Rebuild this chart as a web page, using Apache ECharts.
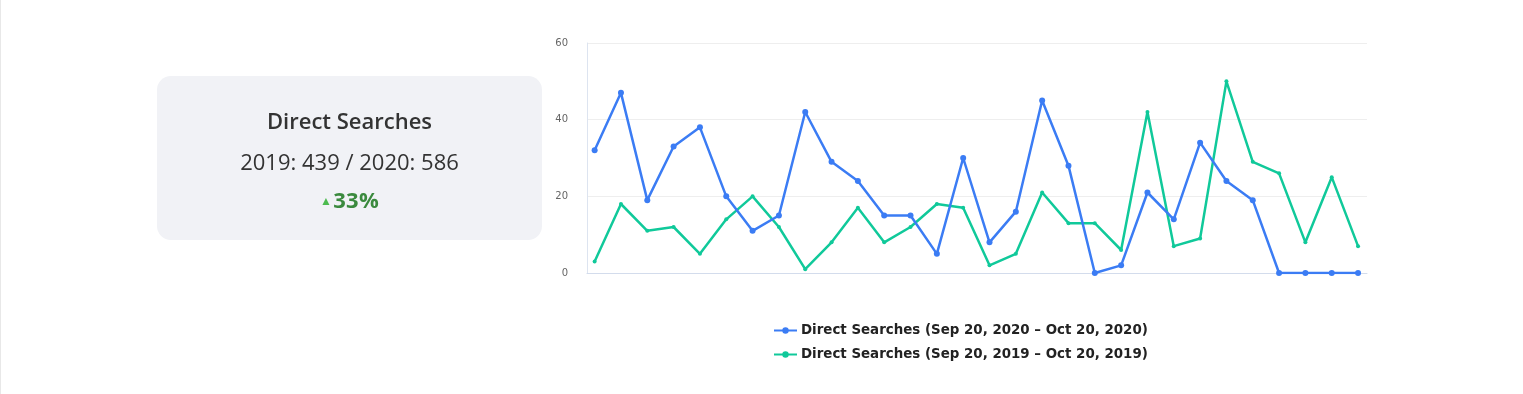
<!DOCTYPE html>
<html>
<head>
<meta charset="utf-8">
<script src="https://cdn.jsdelivr.net/npm/echarts@6/dist/echarts.min.js"></script>
<style>
html,body{margin:0;padding:0;background:#fff;}
body{width:1523px;height:394px;position:relative;overflow:hidden;}
#edge{position:absolute;left:0;top:0;width:1px;height:394px;background:#e8e8e8;}
#chart{position:absolute;left:0;top:0;width:1523px;height:394px;}
#card{position:absolute;left:157px;top:76px;width:385px;height:164px;background:#f1f2f6;border-radius:14px;
  font-family:"Open Sans",sans-serif;text-align:center;color:#333;}
#card .t{position:absolute;left:0;right:0;font-size:22px;font-weight:600;line-height:30px;}
#card .v{position:absolute;left:0;right:0;font-size:22px;font-weight:400;line-height:30px;}
#card .p{position:absolute;left:0;right:0;font-size:22px;font-weight:700;line-height:30px;color:#3b8a3e;letter-spacing:0.3px;}
#card .p span{font-size:12px;color:#4cbb4f;vertical-align:3px;margin-right:1px;}
</style>
</head>
<body>
<div id="edge"></div>
<div id="chart"></div>
<div id="card"></div>
<script>
const cardTitle = "Direct Searches";
const cardValues = "2019: 439 / 2020: 586";
const cardChange = "33%";

const categories = ["Sep 20","Sep 21","Sep 22","Sep 23","Sep 24","Sep 25","Sep 26","Sep 27","Sep 28","Sep 29",
  "Sep 30","Oct 1","Oct 2","Oct 3","Oct 4","Oct 5","Oct 6","Oct 7","Oct 8","Oct 9",
  "Oct 10","Oct 11","Oct 12","Oct 13","Oct 14","Oct 15","Oct 16","Oct 17","Oct 18","Oct 19"];
const series2020 = [32,47,19,33,38,20,11,15,42,29,24,15,15,5,30,8,16,45,28,0,2,21,14,34,24,19,0,0,0,0];
const series2019 = [3,18,11,12,5,14,20,12,1,8,17,8,12,18,17,2,5,21,13,13,6,42,7,9,50,29,26,8,25,7];
const name2020 = "Direct Searches (Sep 20, 2020 \u2013 Oct 20, 2020)";
const name2019 = "Direct Searches (Sep 20, 2019 \u2013 Oct 20, 2019)";
const yTicks = [0,20,40,60];

const card = document.getElementById('card');
const t = document.createElement('div'); t.className='t'; t.style.top='29px'; t.textContent = cardTitle; card.appendChild(t);
const v = document.createElement('div'); v.className='v'; v.style.top='70px'; v.textContent = cardValues; card.appendChild(v);
const p = document.createElement('div'); p.className='p'; p.style.top='108px';
p.innerHTML = '<span>\u25B2</span>' + cardChange; card.appendChild(p);

const chart = echarts.init(document.getElementById('chart'));
const toPairs = arr => arr.map((val, i) => [i, val]);
chart.setOption({
  animation: false,
  grid: {left: 587, top: 43, width: 780, height: 230, containLabel: false},
  xAxis: {
    type: 'value', min: -0.29, max: 29.34,
    axisLine: {show: true, onZero: false, lineStyle: {color: '#d3dcec', width: 1}},
    axisTick: {show: false}, axisLabel: {show: false}, splitLine: {show: false}
  },
  yAxis: {
    type: 'value', min: yTicks[0], max: yTicks[yTicks.length-1], interval: 20,
    axisLine: {show: true, onZero: false, lineStyle: {color: '#dde4f0', width: 1}},
    axisTick: {show: false},
    axisLabel: {color: '#666', fontSize: 10, fontFamily: 'DejaVu Sans', margin: 19},
    splitLine: {show: true, lineStyle: {color: '#eeeeee', width: 1}}
  },
  legend: {
    orient: 'vertical', left: 768, top: 319, itemWidth: 23, itemHeight: 8, itemGap: 11,
    textStyle: {fontSize: 13.4, fontWeight: 'bold', color: '#222', fontFamily: 'DejaVu Sans', padding: [0,0,0,-1]},
    data: [name2020, name2019]
  },
  series: [
    {name: name2020, type: 'line', data: toPairs(series2020), color: '#3b7cf4',
     symbol: 'circle', symbolSize: 6, showSymbol: true,
     lineStyle: {width: 2.5}, itemStyle: {color: '#3b7cf4'}, z: 3},
    {name: name2019, type: 'line', data: toPairs(series2019), color: '#10c99a',
     symbol: 'circle', symbolSize: 4, showSymbol: true,
     lineStyle: {width: 2.5}, itemStyle: {color: '#10c99a'}, z: 2}
  ]
});
</script>
</body>
</html>
